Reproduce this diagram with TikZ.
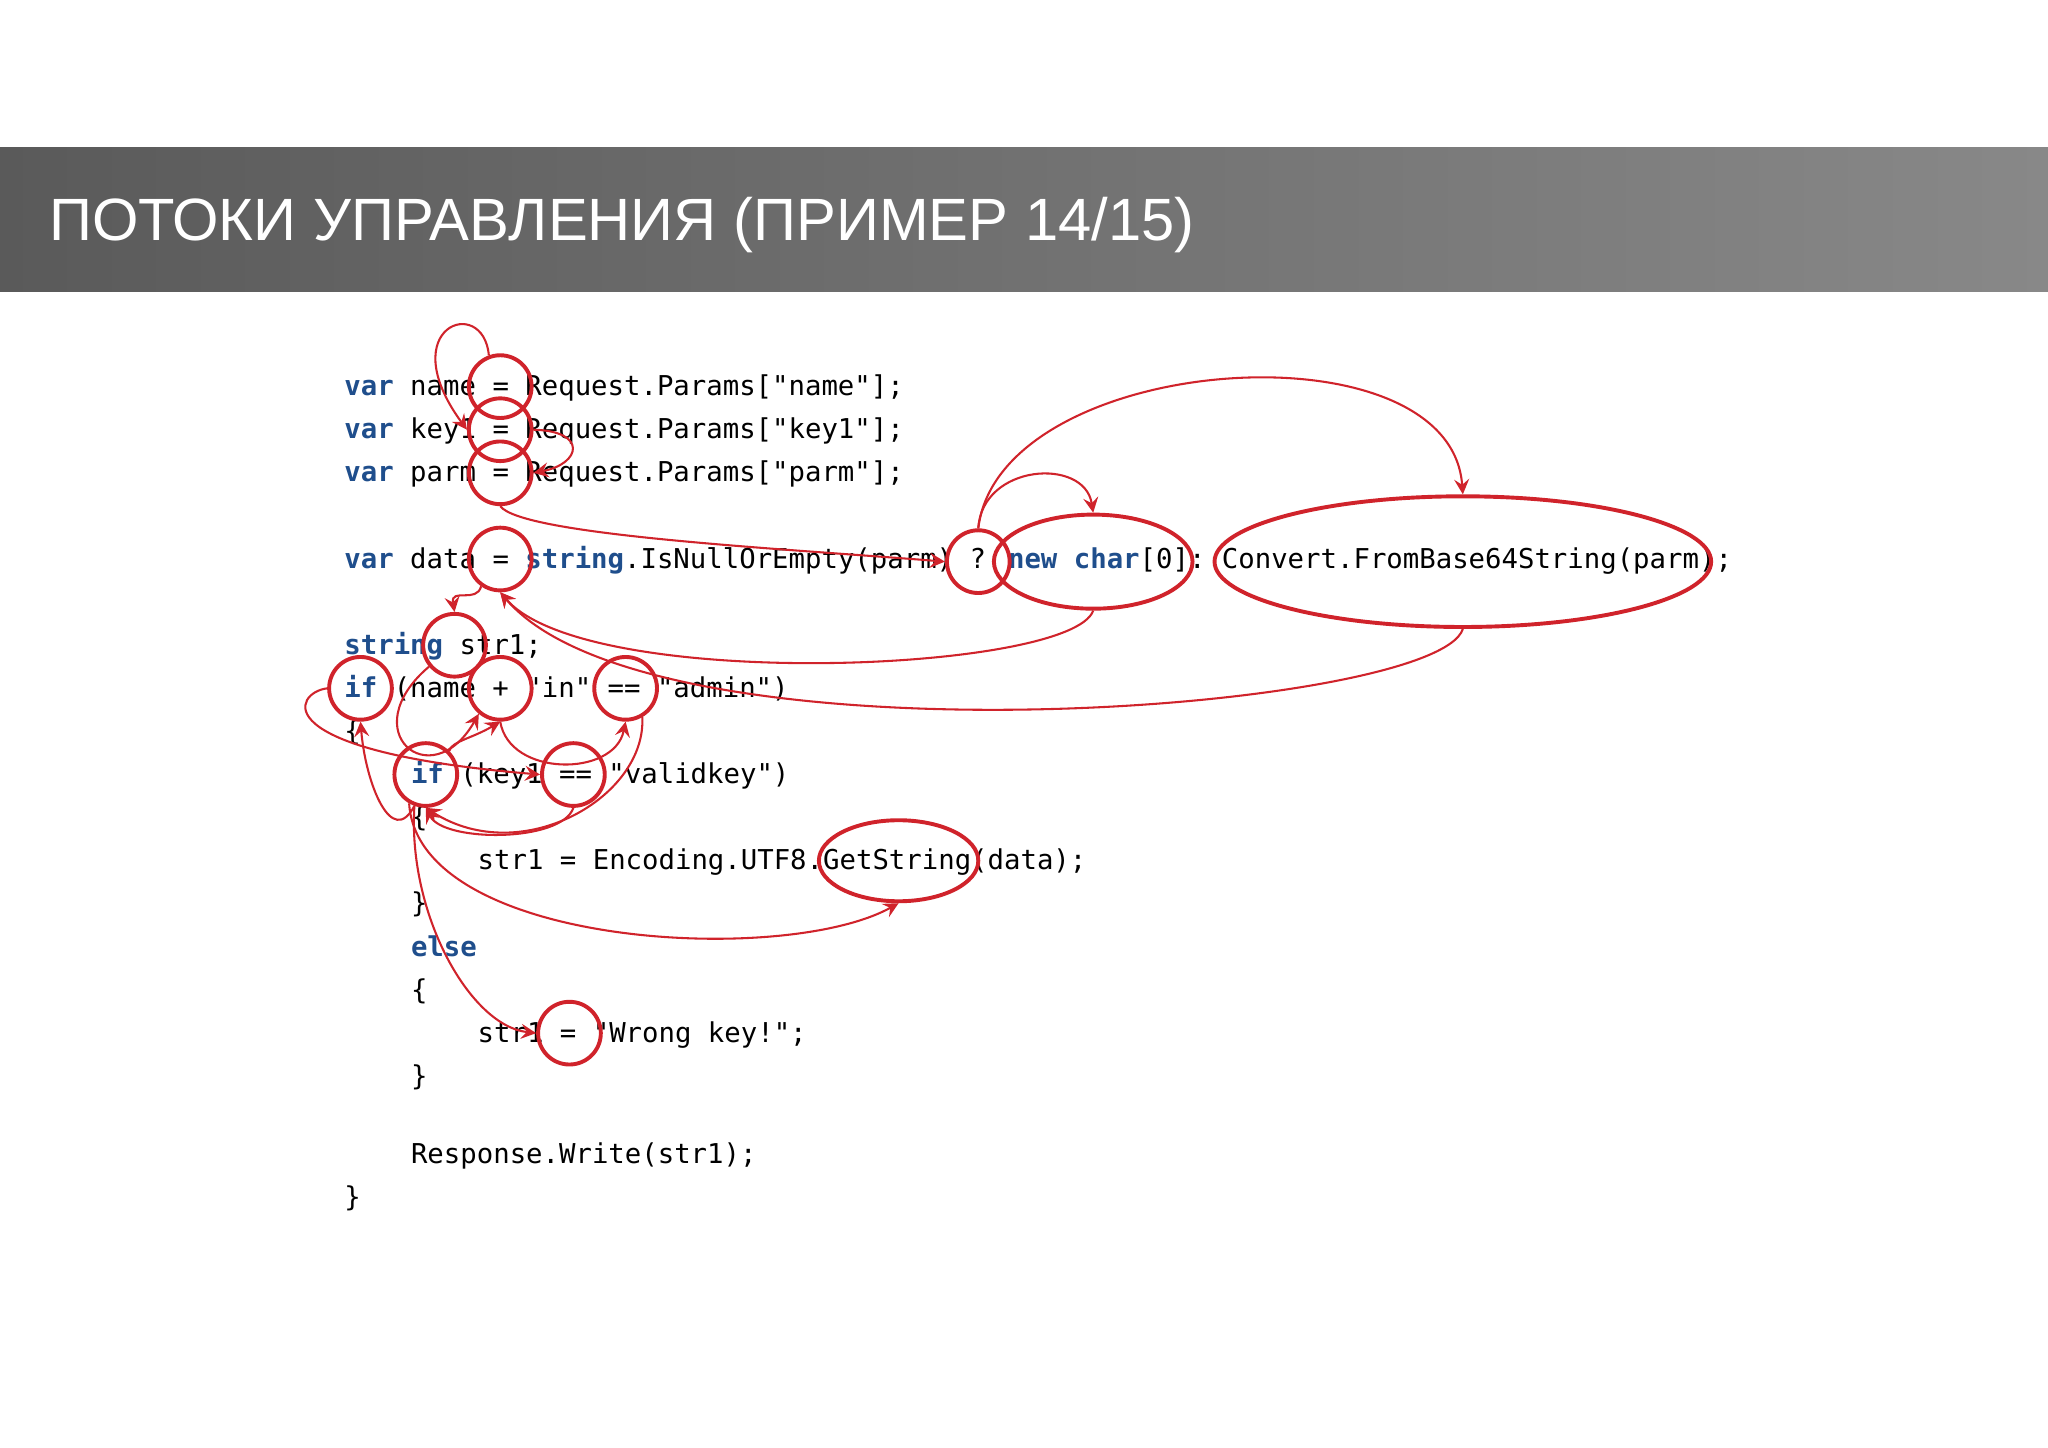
\documentclass[tikz,border=0pt]{standalone}
\usepackage{fontspec}
\usepackage{tikz}
\usetikzlibrary{shapes, arrows, calc, positioning}
\setmainfont{Liberation Sans}
\newfontfamily\codefont{DejaVu Sans Mono}
\definecolor{ringred}{HTML}{D0232B}
\definecolor{kwblue}{HTML}{1F4E8C}
\definecolor{bandleft}{HTML}{5A5A5A}
\definecolor{bandright}{HTML}{888888}
\newcommand{\kw}[1]{\textcolor{kwblue}{\bfseries #1}}

\begin{document}
\begin{tikzpicture}[>=stealth, x=0.01cm, y=-0.01cm]
	\tikzstyle{code} = [anchor=base west, inner sep=0pt, font=\codefont\fontsize{5.95}{7}\selectfont]
	\tikzstyle{ring} = [draw=ringred, line width=0.85pt, circle, minimum size=0.48cm, inner sep=0pt]
	\tikzstyle{oval} = [draw=ringred, line width=0.85pt, ellipse, inner sep=0pt]
	\tikzstyle{flow} = [->, ringred, line width=0.45pt]

	\useasboundingbox (0,0) rectangle (1568,1108);
	\fill[white] (0,0) rectangle (1568,1108);

	% header band
	\shade[left color=bandleft, right color=bandright] (0,113) rectangle (1568,223);
	\node[anchor=base west, inner sep=0pt, text=white, font=\fontsize{13}{16}\selectfont] (title) at (37,184) {ПОТОКИ УПРАВЛЕНИЯ (ПРИМЕР 14/15)};

	% code lines
	\node[code] (l1) at (263,303) {\kw{var} name = Request.Params["name"];};
	\node[code] (l2) at (263,336) {\kw{var} key1 = Request.Params["key1"];};
	\node[code] (l3) at (263,369) {\kw{var} parm = Request.Params["parm"];};
	\node[code] (l4) at (263,435) {\kw{var} data = \kw{string}.IsNullOrEmpty(parm) ? \kw{new char}[0]:~Convert.FromBase64String(parm);};
	\node[code] (l5) at (263,501) {\kw{string} str1;};
	\node[code] (l6) at (263,534) {\kw{if} (name + "in" == "admin")};
	\node[code] (l7) at (263,567) {\{};
	\node[code] (l8) at (314,600) {\kw{if} (key1 == "validkey")};
	\node[code] (l9) at (314,633) {\{};
	\node[code] (l10) at (365,666) {str1 = Encoding.UTF8.GetString(data);};
	\node[code] (l11) at (314,699) {\}};
	\node[code] (l12) at (314,732) {\kw{else}};
	\node[code] (l13) at (314,765) {\{};
	\node[code] (l14) at (365,798) {str1 = "Wrong key!";};
	\node[code] (l15) at (314,831) {\}};
	\node[code] (l16) at (314,891) {Response.Write(str1);};
	\node[code] (l17) at (263,924) {\}};

	% rings
	\node[ring] (eqname) at (383,296) {};
	\node[ring] (eqkey) at (383,329) {};
	\node[ring] (eqparm) at (383,362) {};
	\node[ring] (eqdata) at (383,428) {};
	\node[ring] (qmark) at (749,430) {};
	\node[oval, minimum width=1.52cm, minimum height=0.72cm] (newchar) at (837,430) {};
	\node[oval, minimum width=3.80cm, minimum height=1.00cm] (convert) at (1120,430) {};
	\node[ring] (str) at (348,494) {};
	\node[ring] (ifa) at (276,527) {};
	\node[ring] (plus) at (383,527) {};
	\node[ring] (eqeq) at (479,527) {};
	\node[ring] (ifb) at (326,593) {};
	\node[ring] (eqtwo) at (439,593) {};
	\node[oval, minimum width=1.22cm, minimum height=0.62cm] (getstr) at (688,659) {};
	\node[ring] (eqwrong) at (436,791) {};

	% flows
	\draw[flow] (eqname.110) .. controls (370,225) and (300,250) .. (eqkey.west);
	\draw[flow] (eqkey.east) .. controls (450,330) and (445,355) .. (eqparm.east);
	\draw[flow] (eqparm.south) .. controls (400,410) and (600,420) .. (qmark.west);
	\draw[flow] (qmark.north) .. controls (752,355) and (830,350) .. (newchar.north);
	\draw[flow] (qmark.north) .. controls (765,270) and (1110,245) .. (convert.north);
	\draw[flow] (newchar.south) .. controls (820,515) and (450,530) .. (eqdata.south);
	\draw[flow] (convert.south) .. controls (1100,545) and (500,590) .. (eqdata.south);
	\draw[flow] (eqdata.235) .. controls (365,462) and (345,450) .. (str.north);
	\draw[flow] (str.220) .. controls (270,560) and (330,610) .. (plus.230);
	\draw[flow] (ifb.45) .. controls (345,568) and (362,565) .. (plus.south);
	\draw[flow] (plus.south) .. controls (390,595) and (470,595) .. (eqeq.south);
	\draw[flow] (eqeq.300) .. controls (495,610) and (400,665) .. (ifb.south);
	\draw[flow] (eqtwo.south) .. controls (430,645) and (340,645) .. (ifb.south);
	\draw[flow] (ifa.west) .. controls (225,530) and (200,575) .. (eqtwo.west);
	\draw[flow] (ifb.250) .. controls (300,650) and (280,600) .. (ifa.south);
	\draw[flow] (ifb.240) .. controls (320,725) and (600,740) .. (getstr.south);
	\draw[flow] (ifb.250) .. controls (312,700) and (360,785) .. (eqwrong.west);
\end{tikzpicture}
\end{document}
